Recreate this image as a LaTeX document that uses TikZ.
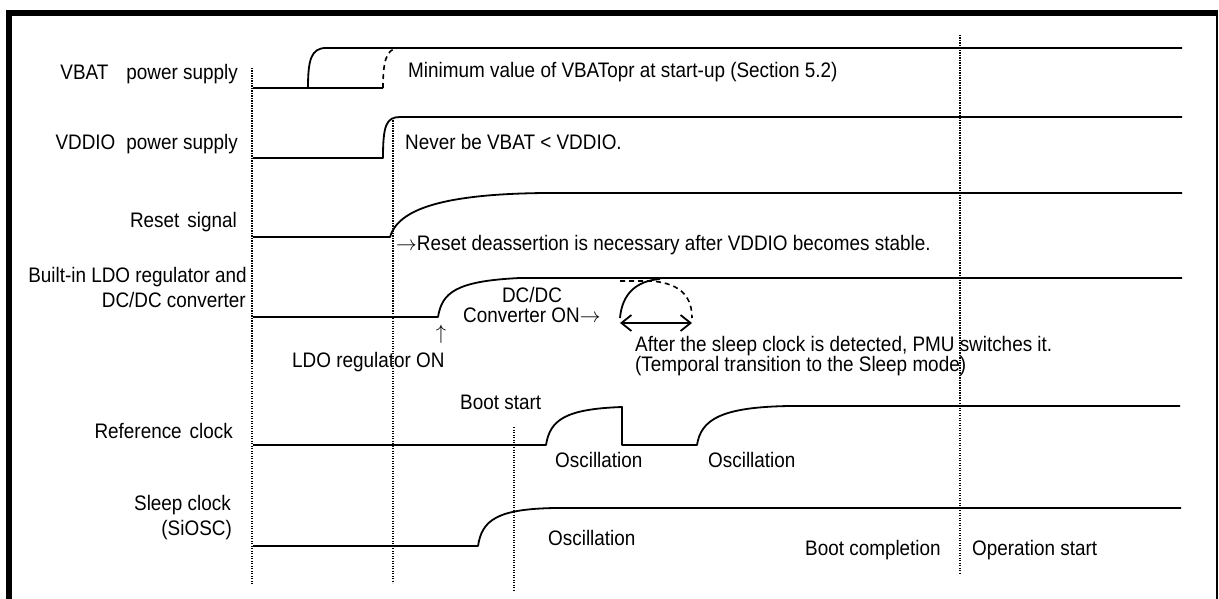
\documentclass[tikz,border=0pt]{standalone}
\usepackage{fontspec}
\setmainfont[FakeStretch=0.9]{Liberation Sans}
\usetikzlibrary{arrows.meta}
\begin{document}
\begin{tikzpicture}[x=1pt,y=-1pt,
  sig/.style={line width=1.8pt, line join=round},
  dsig/.style={line width=1.6pt, dash pattern=on 5pt off 4pt},
  guide/.style={line width=1.4pt, dash pattern=on 1.3pt off 1.2pt},
  lbl/.style={font=\fontsize{21}{21}\selectfont, inner sep=0pt},
  note/.style={font=\fontsize{21}{17}\selectfont, inner sep=0pt, align=left},
  barb/.style={line width=1.8pt, {Straight Barb[length=10pt,width=16pt]}-{Straight Barb[length=10pt,width=16pt]}}]
\useasboundingbox (0,0) rectangle (1219,599);
% frame
\draw[line width=6pt] (9,610) -- (9,13) -- (1218,13);
\draw[line width=1.5pt] (1217,13) -- (1217,610);
% guide lines
\draw[guide] (252,68) -- (252,585);
\draw[guide] (393,118) -- (393,583);
\draw[guide] (514,427) -- (514,590);
\draw[guide] (960,35) -- (960,574);
% VBAT
\draw[sig] (253,88) -- (383,88);
\draw[sig] (308,88) .. controls (308,60) and (311,48) .. (326,48) -- (1182,48);
\draw[dsig] (383,88) .. controls (383,62) and (386,49) .. (398,48);
% VDDIO
\draw[sig] (253,158) -- (383,158) .. controls (383,126) and (386,117) .. (400,117) -- (1182,117);
% Reset
\draw[sig] (253,237) -- (390,237) .. controls (398,210) and (440,194) .. (545,193) -- (1182,193);
% LDO / DCDC
\draw[sig] (253,317) -- (438,317) .. controls (442,293) and (455,281) .. (520,278) -- (1182,278);
\draw[sig] (620,318) .. controls (622,295) and (635,281) .. (660,279);
\draw[dsig] (620,281) -- (650,281) .. controls (684,283) and (692,300) .. (692,318);
\coordinate (aL) at (620,323);
\coordinate (aR) at (692,323);
\draw[barb] (aL) -- (aR);
% Reference clock
\draw[sig] (253,445) -- (546,445) .. controls (550,420) and (565,409) .. (622,407) -- (622,445) -- (697,445) .. controls (701,420) and (720,407) .. (790,406) -- (1180,406);
% Sleep clock
\draw[sig] (253,546) -- (478,546) .. controls (482,520) and (497,509) .. (555,508) -- (1181,508);
% labels
\node[lbl, anchor=base east] (t1) at (238,80) {VBAT\hspace{18pt}power supply};
\node[lbl, anchor=base east] (t2) at (238,150) {VDDIO\hspace{11pt}power supply};
\node[lbl, anchor=base east] (t3) at (237,227) {Reset\hspace{8pt}signal};
\node[lbl, anchor=base east] (t4) at (247,282) {Built-in LDO regulator and};
\node[lbl, anchor=base east] (t5) at (246,307) {DC/DC converter};
\node[lbl, anchor=base east] (t6) at (233,438) {Reference\hspace{8pt}clock};
\node[lbl, anchor=base east] (t7) at (231,510) {Sleep clock};
\node[lbl, anchor=base east] (t8) at (232,535) {(SiOSC)};
% notes
\node[lbl, anchor=base west] (n1) at (408,78) {Minimum value of VBATopr at start-up (Section 5.2)};
\node[lbl, anchor=base west] (n2) at (405,150) {Never be VBAT < VDDIO.};
\node[lbl, anchor=base west] (n3) at (396,250) {$\rightarrow$Reset deassertion is necessary after VDDIO becomes stable.};
\node[lbl, anchor=base] (n4) at (532,302) {DC/DC};
\node[lbl, anchor=base west] (n5) at (463,322) {Converter ON$\rightarrow$};
\node[lbl, anchor=base] (n6) at (441,339) {$\uparrow$};
\node[lbl, anchor=base west] (n7) at (292,367) {LDO regulator ON};
\node[note, anchor=north west] (n8) at (635,336) {After the sleep clock is detected, PMU switches it.\\(Temporal transition to the Sleep mode)};
\node[lbl, anchor=base west] (n10) at (460,409) {Boot start};
\node[lbl, anchor=base west] (n11) at (555,467) {Oscillation};
\node[lbl, anchor=base west] (n12) at (708,467) {Oscillation};
\node[lbl, anchor=base west] (n13) at (548,545) {Oscillation};
\node[lbl, anchor=base west] (n14) at (805,555) {Boot completion};
\node[lbl, anchor=base west] (n15) at (972,555) {Operation start};
\end{tikzpicture}
\end{document}
